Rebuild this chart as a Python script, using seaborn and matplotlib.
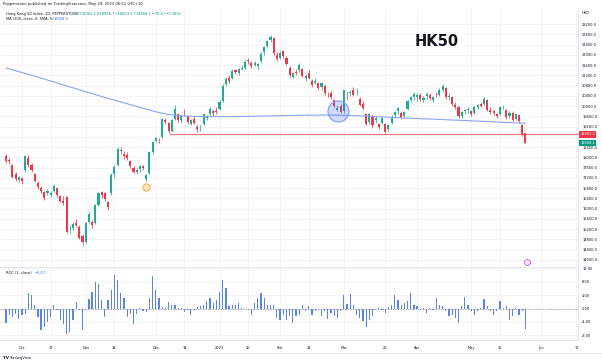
import pandas as pd
import numpy as np
import matplotlib
matplotlib.use("Agg")
import matplotlib.pyplot as plt
import matplotlib.transforms as mtransforms
import seaborn as sns

# trading days on the chart (HK holidays taken out)
holidays = pd.to_datetime(['2022-10-04', '2022-12-26', '2022-12-27', '2023-01-02', '2023-01-23',
                           '2023-01-24', '2023-04-05', '2023-04-07', '2023-04-10', '2023-05-01'])
days = [d for d in pd.bdate_range('2022-09-26', '2023-05-25') if d not in holidays]
future_days = list(pd.bdate_range('2023-05-26', '2023-06-30'))

opens = [18050, 17900, 17700, 17350, 17120, 17180, 17500, 17960, 17700, 17350,
         17000, 16820, 16650, 16600, 16550, 16700, 16800, 16480, 16320, 16470,
         15150, 15250, 15450, 15300, 14950, 14700, 15500, 15500, 15450, 16150,
         16650, 16600, 16250, 16600, 17350, 17700, 18300, 18150, 18100, 17850,
         17600, 17450, 17550, 17650, 17150, 17400, 18200, 18650, 18700, 18800,
         19450, 19350, 19050, 19500, 19700, 19450, 19700, 19600, 19300, 19500,
         19200, 19150, 19300, 19550, 19700, 19800, 19800, 19900, 20200, 20850,
         21100, 21100, 21400, 21300, 21450, 21500, 21800, 21700, 21600, 21550,
         21750, 22100, 22350, 22600, 22650, 22000, 21900, 22150, 21900, 21500,
         21150, 21350, 21400, 21450, 21100, 21300, 21000, 20900, 20900, 20750,
         20800, 20450, 20500, 20250, 19850, 20000, 19800, 20450, 20500, 20650,
         20500, 20300, 20100, 19700, 19400, 19600, 19450, 19300, 19350, 19300,
         19100, 19350, 19650, 19800, 19750, 19600, 19900, 20250, 20350, 20350,
         20450, 20250, 20400, 20450, 20250, 20450, 20450, 20650, 20700, 20350,
         20350, 20050, 19950, 19600, 19800, 19850, 19800, 19750, 19950, 20100,
         20100, 20250, 19850, 19800, 19700, 19700, 19950, 19850, 19600, 19750,
         19500, 19650, 19270, 18961]
highs = [18120, 17990, 17760, 17420, 17280, 17250, 18100, 18080, 17780, 17400,
         17080, 16900, 16700, 16780, 16700, 16980, 16850, 16550, 16480, 16500,
         15350, 15500, 15600, 15350, 15000, 15500, 15900, 15550, 16200, 16650,
         16700, 16650, 16300, 17400, 17700, 18400, 18400, 18250, 18200, 17900,
         17650, 17600, 17700, 17700, 17350, 18250, 18650, 18800, 18750, 19550,
         19550, 19400, 19500, 20050, 19750, 19650, 19900, 19650, 19500, 19600,
         19250, 19250, 19700, 19650, 19950, 19850, 19950, 20250, 20850, 21150,
         21200, 21450, 21450, 21500, 21600, 21800, 21900, 21750, 21750, 21700,
         22100, 22350, 22600, 22780, 22700, 22100, 22150, 22200, 21950, 21550,
         21350, 21450, 21700, 21500, 21250, 21400, 21050, 21100, 20950, 20950,
         20850, 20550, 20600, 20300, 20050, 20100, 20650, 20550, 20650, 20750,
         20700, 20350, 20200, 19750, 19750, 19650, 19600, 19350, 19600, 19350,
         19300, 19650, 19800, 19950, 19800, 19800, 20250, 20400, 20550, 20500,
         20500, 20400, 20550, 20500, 20400, 20550, 20700, 20850, 20750, 20500,
         20400, 20150, 20000, 19800, 19900, 19950, 19850, 20000, 20100, 20150,
         20350, 20300, 19950, 19850, 19750, 20000, 20050, 19900, 19800, 19800,
         19700, 19700, 19300, 18966]
lows = [17800, 17760, 17200, 17100, 17050, 16980, 17450, 17640, 17450, 17050,
        16780, 16600, 16330, 16520, 16450, 16650, 16450, 16250, 16150, 15050,
        15000, 15150, 15300, 14800, 14600, 14650, 15450, 15250, 15400, 16100,
        16400, 16300, 15950, 16550, 17250, 17650, 18150, 17950, 17900, 17600,
        17380, 17350, 17450, 17500, 17100, 17350, 18150, 18600, 18550, 18750,
        19300, 18950, 19000, 19450, 19400, 19350, 19600, 19300, 19250, 19300,
        19000, 19050, 19250, 19450, 19650, 19600, 19700, 19850, 20150, 20800,
        20900, 21050, 21250, 21200, 21400, 21450, 21650, 21500, 21550, 21450,
        21700, 22000, 22300, 22500, 22000, 21750, 21850, 21900, 21600, 21150,
        21100, 21200, 21350, 21150, 21000, 21050, 20750, 20850, 20650, 20650,
        20450, 20350, 20300, 19950, 19800, 19750, 19750, 20300, 20400, 20400,
        20450, 20000, 19850, 19250, 19300, 19150, 19350, 19100, 19300, 18950,
        19050, 19300, 19550, 19700, 19500, 19550, 19850, 20150, 20250, 20200,
        20200, 20150, 20300, 20250, 20150, 20350, 20400, 20600, 20300, 20250,
        20000, 19900, 19550, 19550, 19700, 19750, 19600, 19700, 19900, 19950,
        20050, 19800, 19700, 19650, 19550, 19650, 19900, 19500, 19550, 19400,
        19450, 19350, 18850, 18553]
closes = [17855, 17860, 17251, 17166, 17223, 17079, 18050, 17700, 17520, 17100,
          16830, 16700, 16400, 16700, 16620, 16900, 16520, 16300, 16230, 15100,
          15180, 15400, 15350, 14860, 14700, 15450, 15800, 15350, 16150, 16600,
          16550, 16360, 16050, 17300, 17620, 18340, 18260, 18050, 17990, 17650,
          17420, 17520, 17660, 17570, 17300, 18200, 18600, 18740, 18680, 19500,
          19400, 19050, 19450, 19900, 19480, 19600, 19680, 19370, 19450, 19350,
          19100, 19160, 19680, 19600, 19900, 19740, 19780, 20150, 20800, 21050,
          20990, 21390, 21330, 21440, 21510, 21740, 21750, 21580, 21680, 21650,
          22040, 22300, 22560, 22690, 22070, 21840, 22070, 21960, 21660, 21220,
          21300, 21280, 21620, 21190, 21160, 21110, 20810, 20990, 20720, 20890,
          20530, 20420, 20350, 20010, 19940, 19790, 20620, 20430, 20570, 20450,
          20530, 20050, 19930, 19320, 19700, 19250, 19540, 19200, 19520, 19000,
          19260, 19590, 19760, 19920, 19570, 19780, 20190, 20350, 20480, 20450,
          20280, 20330, 20490, 20310, 20340, 20440, 20650, 20780, 20370, 20400,
          20080, 19960, 19620, 19760, 19840, 19900, 19700, 19950, 20050, 20000,
          20300, 19870, 19760, 19740, 19630, 19970, 19980, 19560, 19730, 19450,
          19680, 19430, 18900, 18568]

ma200 = [21490, 21455, 21420, 21385, 21350, 21315, 21280, 21245, 21210, 21172,
         21135, 21098, 21060, 21022, 20984, 20946, 20908, 20870, 20832, 20794,
         20756, 20718, 20680, 20642, 20604, 20566, 20528, 20490, 20452, 20414,
         20376, 20340, 20305, 20270, 20235, 20200, 20165, 20130, 20095, 20060,
         20025, 19990, 19955, 19920, 19885, 19850, 19815, 19782, 19752, 19724,
         19700, 19680, 19664, 19650, 19638, 19628, 19620, 19613, 19607, 19602,
         19598, 19595, 19593, 19591, 19590, 19590, 19590, 19590, 19591, 19592,
         19593, 19594, 19596, 19598, 19600, 19602, 19604, 19606, 19608, 19610,
         19612, 19614, 19617, 19620, 19623, 19626, 19629, 19632, 19635, 19638,
         19640, 19642, 19644, 19646, 19648, 19650, 19651, 19652, 19653, 19654,
         19655, 19655, 19655, 19654, 19653, 19650, 19646, 19642, 19637, 19632,
         19627, 19622, 19616, 19610, 19604, 19598, 19592, 19586, 19580, 19574,
         19568, 19562, 19556, 19550, 19545, 19540, 19535, 19530, 19525, 19520,
         19515, 19510, 19505, 19500, 19495, 19490, 19485, 19480, 19475, 19470,
         19465, 19459, 19453, 19447, 19441, 19435, 19429, 19423, 19417, 19411,
         19405, 19399, 19393, 19387, 19381, 19375, 19369, 19364, 19359, 19354,
         19349, 19344, 19339, 19334]

roc = [-4.3, -2.0, -2.5, -1.5, -3.0, -2.0, -1.5, 4.5, 4.0, 1.0,
       -2.5, -6.5, -5.5, -4.0, -2.5, 1.2, -0.5, -3.5, -4.5, -7.5,
       -7.0, -3.3, 2.0, -0.5, -6.3, -0.5, 2.7, 5.0, 7.8, 7.4,
       2.5, -2.5, 2.5, 5.5, 10.1, 8.6, 4.5, 3.0, -2.5, -1.5,
       -4.5, -1.5, 0.2, -0.6, -1.0, 3.0, 9.8, 5.5, 3.0, 0.5,
       0.3, 2.0, 1.0, 1.0, 0.2, 0.1, -1.0, -0.5, -1.8, -0.3,
       0.4, 0.7, 1.0, 2.2, 3.2, 1.7, 2.5, 5.0, 8.5, 6.1,
       0.7, 1.0, 1.2, 1.7, 0.2, -0.1, -0.3, -1.8, 1.7, 3.2,
       4.7, 3.2, 1.2, 1.2, 1.0, -2.8, -3.3, -1.8, -3.3, -2.3,
       -4.3, -2.3, -1.8, 1.2, -0.8, 0.7, -2.0, -0.8, -0.3, -2.3,
       -0.8, -3.0, -1.3, -2.3, -2.8, -0.8, 4.0, 1.4, 4.4, 1.2,
       -1.8, -2.8, -3.8, -5.4, -3.3, -2.3, -0.3, 0.2, -0.3, -1.3,
       0.4, 1.2, 4.0, 2.4, 1.2, 1.7, 2.2, 4.7, 1.2, 0.7,
       -0.3, 0.3, -1.3, 0.2, -0.3, 3.2, 1.0, 0.7, -0.8, -2.3,
       -1.8, -2.8, -4.3, 0.7, 3.5, 1.2, -0.8, -1.8, -0.8, 0.2,
       2.7, 0.7, -0.8, -1.8, -0.8, 2.2, 0.2, 0.7, -3.3, -2.3,
       0.2, -1.8, -0.8, -6.1]

tick_dates = ['2022-10-03', '2022-10-17', '2022-11-01', '2022-11-14', '2022-12-01', '2022-12-14',
              '2023-01-03', '2023-01-16', '2023-02-01', '2023-02-14', '2023-03-01', '2023-03-20',
              '2023-04-03', '2023-05-02', '2023-05-15', '2023-06-01', '2023-06-16']
tick_labels = ['Oct', '17', 'Nov', '14', 'Dec', '14', '2023', '16', 'Feb', '14', 'Mar', '20',
               'Apr', 'May', '15', 'Jun', '17']

price_ticks = list(range(14000, 23600, 400))
roc_ticks = [12, 8, 4, 0, -4, -8]
level = 18901.2
last_close = 18568.1

df = pd.DataFrame({'open': opens, 'high': highs, 'low': lows, 'close': closes,
                   'ma': ma200, 'roc': roc})
df['i'] = np.arange(len(df))
all_days = days + future_days


def day_pos(s):
    d = pd.Timestamp(s)
    return next(k for k, x in enumerate(all_days) if x >= d)


tick_pos = [day_pos(s) for s in tick_dates]

sns.set_theme(style='white')
plt.rcParams['font.family'] = ['DejaVu Sans']

UP = '#22ab94'
DOWN = '#f23645'
TXT = '#131722'
GRID = '#f2f3f6'

W, H = 602, 361
fig = plt.figure(figsize=(W / 100, H / 100), dpi=100)
right = 578
ax = fig.add_axes([0, 1 - 267 / H, right / W, (267 - 9) / H])
ax2 = fig.add_axes([0, 1 - 340 / H, right / W, (340 - 268) / H])

xl = (-1.9, 179.5)

# candles
up = df['close'] >= df['open']
cols = np.where(up, UP, DOWN)
body_lo = df[['open', 'close']].min(axis=1)
body_h = (df['close'] - df['open']).abs().clip(lower=12)
ax.vlines(df['i'], df['low'], df['high'], colors=cols, lw=0.55, zorder=3)
ax.bar(df['i'], body_h, bottom=body_lo, width=0.66, color=cols, lw=0, zorder=4)

sns.lineplot(x=df['i'], y=df['ma'], ax=ax, color='#8aa5f0', lw=0.8, zorder=5)
ax.hlines(level, 51, xl[1], color='#f47a82', lw=0.9, zorder=2)

ax.scatter([104.3], [19824], s=228, facecolor=(0.16, 0.38, 1.0, 0.22), edgecolor='#7f9cf0',
           lw=0.8, zorder=6)
ax.scatter([43.9], [16859], s=28, facecolor='#fde3bd', edgecolor='#f0a63c', lw=0.6, zorder=6)
ax.scatter([163.5], [13921], s=18, facecolor='#f6ecfb', edgecolor='#b25fd8', lw=0.6, zorder=6)

ax.set_xlim(*xl)
ax.set_ylim(13725, 23793)
ax.set_yticks(price_ticks)
ax.set_yticklabels(['' if v == 18800 else f'{v:.1f}' for v in price_ticks])
ax.yaxis.tick_right()
ax.tick_params(axis='y', length=0, pad=3, labelsize=2.6, labelcolor=TXT)
ax.set_xticks(tick_pos)
ax.tick_params(axis='x', length=0, labelbottom=False)
ax.grid(True, color=GRID, lw=0.6)
ax.set_xlabel('')
ax.set_ylabel('')
for s in ['top', 'left']:
    ax.spines[s].set_visible(False)
ax.spines['right'].set_color('#e0e3eb')
ax.spines['bottom'].set_color('#e0e3eb')
ax.spines['right'].set_linewidth(0.6)
ax.spines['bottom'].set_linewidth(0.6)

tr = mtransforms.blended_transform_factory(ax.transAxes, ax.transData)
ax.text(1.004, level, f'{level:.1f}', transform=tr, fontsize=2.6, color='white', va='center',
        ha='left', clip_on=False,
        bbox=dict(boxstyle='square,pad=0.35', fc=DOWN, ec='none'))
ax.text(1.004, last_close, f'{last_close:.1f}', transform=tr, fontsize=2.6, color='white',
        va='center', ha='left', clip_on=False,
        bbox=dict(boxstyle='square,pad=0.35', fc='#089981', ec='none'))

# ROC pane
ax2.bar(df['i'], df['roc'], width=0.38, color='#5b84e8', lw=0, zorder=3)
ax2.axhline(0, color='#9598a1', lw=0.6, ls=(0, (1.5, 1.5)), zorder=2)
ax2.set_xlim(*xl)
ax2.set_ylim(-9.4, 12.1)
ax2.set_yticks(roc_ticks)
ax2.set_yticklabels([f'{v:.2f}' for v in roc_ticks])
ax2.yaxis.tick_right()
ax2.tick_params(axis='y', length=0, pad=3, labelsize=2.6, labelcolor=TXT)
ax2.set_xticks(tick_pos)
ax2.set_xticklabels(tick_labels)
ax2.tick_params(axis='x', length=0, pad=4, labelsize=2.6, labelcolor=TXT)
ax2.grid(True, color=GRID, lw=0.6)
for s in ['top', 'left']:
    ax2.spines[s].set_visible(False)
ax2.spines['right'].set_color('#e0e3eb')
ax2.spines['bottom'].set_color('#e0e3eb')
ax2.spines['right'].set_linewidth(0.6)
ax2.spines['bottom'].set_linewidth(0.6)

# texts
def ftext(x, y, s, **kw):
    fig.text(x / W, 1 - y / H, s, va='center', ha='left', **kw)


ftext(3, 4.5, 'Pepperstone published on TradingView.com, May 29, 2023 06:51 UTC+10', fontsize=2.7, color=TXT)
ftext(6, 14, 'Hong Kong 50 Index, 1D, PEPPERSTONE', fontsize=2.6, color=TXT)
ftext(78, 14, 'O18961.2 H18965.7 L18553.1 C18568.1 \u221275.6 (\u22120.38%)', fontsize=2.6, color='#089981')
ftext(6, 19.5, 'MA (200, close, 0, SMA, 5)', fontsize=2.6, color=TXT)
ftext(54, 19.5, '19328.5', fontsize=2.6, color='#2962ff')
ftext(582, 13, 'HKD', fontsize=2.6, color=TXT)
ftext(6, 273, 'ROC (1, close)', fontsize=2.6, color=TXT)
ftext(35, 273, '\u22125.57', fontsize=2.6, color='#2962ff')
ftext(3, 358, 'TV', fontsize=3.0, color=TXT, weight='bold')
ftext(9, 358, 'TradingView', fontsize=2.6, color=TXT)
fig.text(437 / W, 1 - 42 / H, 'HK50', fontsize=10.5, weight='bold', color=TXT, ha='center', va='center')

line = plt.Line2D([0, 1], [1 - 353 / H, 1 - 353 / H], transform=fig.transFigure, color='#e0e3eb', lw=0.6)
fig.add_artist(line)

fig.savefig('out.png', dpi=100)
